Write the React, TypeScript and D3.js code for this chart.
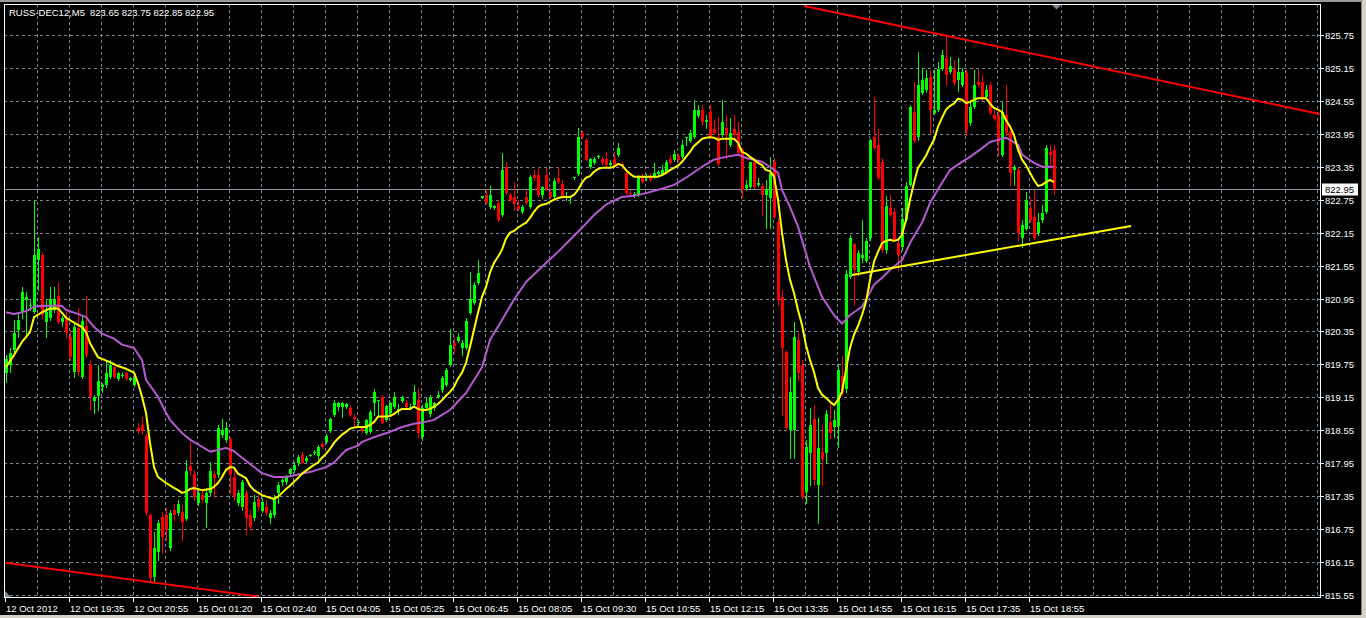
import React, { useRef, useEffect } from 'react';
import * as d3 from 'd3';

// RUSS-DEC12, M5 candles (bar 0 = left edge of the chart)
const opens = [
  819.60, 819.74, 820.01, 820.38, 820.70, 820.93, 820.82, 820.70, 821.65, 821.75,
  820.52, 820.60, 820.74, 820.99, 820.52, 820.61, 820.25, 819.61, 820.42, 819.52,
  820.45, 819.74, 819.09, 819.18, 819.34, 819.38, 819.52, 819.70, 819.49, 819.54,
  819.60, 819.47, 819.38, 818.60, 818.65, 818.45, 817.01, 815.88, 816.34, 816.97,
  817.01, 816.41, 817.10, 817.05, 817.06, 816.94, 817.90, 817.76, 817.23, 817.37,
  817.23, 817.41, 817.76, 817.74, 818.47, 818.38, 818.40, 817.70, 817.23, 817.15,
  817.41, 817.01, 816.95, 817.30, 817.08, 817.15, 816.95, 817.01, 817.41, 817.61,
  817.61, 817.76, 817.83, 817.96, 818.10, 817.99, 818.08, 818.14, 818.08, 818.30,
  818.34, 818.54, 818.83, 818.98, 818.98, 818.98, 818.96, 818.80, 818.69, 818.60,
  818.50, 818.52, 819.05, 819.08, 819.16, 818.74, 818.87, 818.98, 818.94, 819.09,
  819.05, 818.98, 819.01, 819.10, 818.43, 818.96, 818.85, 818.96, 819.16, 819.29,
  819.38, 819.74, 820.14, 820.18, 820.05, 820.05, 820.69, 820.87, 821.24, 822.79,
  822.84, 822.62, 822.60, 822.69, 822.47, 823.35, 822.84, 822.80, 822.64, 822.53,
  822.80, 822.62, 823.20, 823.20, 822.84, 823.20, 822.89, 822.80, 823.15, 823.04,
  822.80, 822.78, 823.15, 823.22, 823.97, 823.84, 823.35, 823.42, 823.53, 823.49,
  823.49, 823.38, 823.49, 823.57, 823.40, 823.24, 822.87, 822.84, 822.84, 823.17,
  823.15, 823.18, 823.17, 823.22, 823.22, 823.26, 823.49, 823.48, 823.55, 823.53,
  823.88, 823.82, 823.89, 824.28, 824.39, 824.17, 824.35, 824.04, 823.89, 823.93,
  824.06, 823.75, 824.04, 823.99, 823.66, 822.96, 822.98, 823.44, 823.02, 823.00,
  822.84, 822.78, 823.44, 822.35, 820.98, 819.98, 818.56, 818.56, 820.20, 819.74,
  817.43, 818.14, 818.76, 817.56, 818.16, 818.14, 818.70, 818.61, 818.63, 819.54,
  819.31, 821.34, 821.95, 821.43, 821.69, 821.64, 822.05, 823.89, 823.75, 823.44,
  821.84, 822.60, 822.53, 821.96, 821.89, 822.38, 823.02, 824.35, 823.89, 824.70,
  824.75, 824.99, 824.33, 824.39, 825.13, 825.33, 825.08, 825.13, 824.93, 824.84,
  825.06, 824.15, 824.44, 824.90, 824.90, 824.62, 824.84, 824.30, 824.30, 823.57,
  824.30, 823.99, 823.29, 823.29, 822.05, 822.22, 822.60, 822.44, 822.15, 822.38,
  822.53, 823.62, 823.65,
];
const highs = [
  819.92, 820.05, 820.56, 820.70, 821.16, 821.06, 820.93, 822.75, 822.07, 821.80,
  820.93, 821.16, 821.16, 821.25, 820.63, 820.70, 820.38, 820.51, 820.78, 820.65,
  820.99, 819.83, 819.20, 819.74, 819.41, 819.83, 819.83, 819.74, 819.61, 819.61,
  819.61, 819.52, 819.52, 818.69, 818.80, 818.49, 817.05, 816.70, 816.92, 817.06,
  817.14, 817.10, 817.21, 817.28, 817.19, 818.01, 818.34, 817.83, 817.46, 817.46,
  817.50, 817.97, 817.83, 818.65, 818.76, 818.70, 818.43, 817.83, 817.46, 817.65,
  817.46, 817.10, 817.37, 817.37, 817.32, 817.28, 817.10, 817.37, 817.61, 817.68,
  817.74, 817.87, 817.97, 818.10, 818.16, 818.08, 818.12, 818.19, 818.28, 818.34,
  818.49, 818.78, 819.10, 819.07, 819.07, 819.05, 819.01, 818.85, 818.74, 818.63,
  818.76, 818.92, 819.31, 819.10, 819.20, 819.01, 819.07, 819.25, 819.03, 819.18,
  819.10, 819.03, 819.38, 819.32, 819.01, 819.14, 819.20, 819.07, 819.27, 819.54,
  819.69, 820.40, 820.25, 820.33, 820.20, 820.60, 821.43, 821.25, 821.65, 822.82,
  822.95, 823.00, 822.66, 822.75, 823.60, 823.44, 822.87, 823.07, 822.75, 822.66,
  822.93, 823.20, 823.29, 823.35, 823.00, 823.33, 822.96, 823.15, 823.35, 823.11,
  822.89, 822.82, 823.17, 824.06, 824.00, 823.88, 823.51, 823.53, 823.57, 823.53,
  823.62, 823.48, 823.62, 823.79, 823.44, 823.29, 822.93, 822.89, 823.20, 823.22,
  823.22, 823.24, 823.42, 823.29, 823.38, 823.48, 823.57, 823.66, 823.60, 823.84,
  823.89, 824.02, 824.57, 824.48, 824.48, 824.30, 824.48, 824.20, 824.26, 824.57,
  824.30, 824.24, 824.30, 824.17, 823.69, 823.11, 823.44, 823.48, 823.15, 823.06,
  823.11, 823.53, 823.51, 822.42, 821.11, 820.01, 819.52, 820.52, 820.33, 819.83,
  818.38, 818.96, 819.01, 818.78, 818.65, 818.92, 819.07, 818.92, 819.74, 819.90,
  821.47, 822.11, 821.97, 821.84, 822.38, 822.05, 823.86, 824.62, 824.04, 823.51,
  822.82, 822.84, 822.60, 822.05, 822.60, 823.07, 824.48, 824.90, 825.44, 825.15,
  825.11, 825.11, 825.11, 825.26, 825.48, 825.71, 825.35, 825.30, 825.33, 825.15,
  825.11, 824.57, 825.11, 825.13, 825.02, 824.84, 824.90, 824.39, 824.39, 824.53,
  824.84, 824.11, 823.38, 823.33, 822.38, 822.89, 822.78, 822.93, 822.51, 822.66,
  823.75, 823.75, 823.75,
];
const lows = [
  819.43, 819.61, 819.97, 820.25, 820.60, 820.25, 820.74, 820.69, 821.11, 820.60,
  820.25, 820.56, 820.70, 820.51, 820.45, 820.25, 819.83, 819.52, 819.56, 819.50,
  819.88, 818.92, 818.87, 818.92, 819.25, 819.34, 819.50, 819.50, 819.47, 819.52,
  819.47, 819.45, 819.36, 818.50, 818.50, 817.01, 815.79, 815.79, 816.19, 816.32,
  816.55, 816.37, 816.92, 817.01, 816.55, 816.92, 817.74, 817.28, 817.19, 817.24,
  816.79, 817.37, 817.34, 817.70, 818.43, 818.34, 817.41, 817.28, 817.19, 817.10,
  816.66, 816.73, 816.92, 817.10, 817.06, 817.01, 816.86, 816.97, 817.23, 817.55,
  817.57, 817.72, 817.79, 817.92, 817.96, 817.97, 818.08, 818.12, 818.03, 818.23,
  818.32, 818.52, 818.81, 818.92, 818.80, 818.96, 818.81, 818.61, 818.65, 818.52,
  818.49, 818.50, 818.83, 818.83, 818.69, 818.72, 818.85, 818.96, 818.85, 819.07,
  818.96, 818.94, 818.99, 818.43, 818.38, 818.92, 818.81, 818.92, 819.14, 819.25,
  819.36, 819.72, 819.96, 820.16, 819.92, 820.03, 820.67, 820.85, 821.22, 822.78,
  822.67, 822.60, 822.58, 822.36, 822.46, 822.86, 822.73, 822.57, 822.57, 822.51,
  822.67, 822.60, 823.11, 822.82, 822.78, 822.93, 822.78, 822.78, 823.06, 822.78,
  822.75, 822.69, 823.13, 823.20, 823.88, 823.48, 823.33, 823.40, 823.51, 823.40,
  823.37, 823.35, 823.35, 823.55, 823.33, 822.86, 822.82, 822.80, 822.82, 823.06,
  823.11, 823.09, 823.15, 823.20, 823.20, 823.24, 823.40, 823.46, 823.46, 823.51,
  823.75, 823.80, 823.88, 824.26, 824.11, 824.06, 823.88, 823.95, 823.38, 823.91,
  823.51, 823.73, 823.91, 823.57, 822.80, 822.93, 822.96, 822.96, 823.00, 822.47,
  822.24, 822.24, 822.42, 820.84, 818.83, 818.56, 818.05, 818.05, 819.47, 817.32,
  817.23, 817.56, 817.56, 816.86, 817.56, 817.96, 818.41, 818.43, 818.25, 819.20,
  819.25, 821.33, 820.84, 821.38, 821.62, 821.62, 822.02, 823.67, 823.13, 821.80,
  821.78, 822.46, 822.00, 821.47, 821.84, 822.36, 823.00, 823.80, 823.84, 824.68,
  824.71, 823.97, 824.31, 824.37, 825.11, 824.84, 825.06, 824.84, 824.73, 824.82,
  823.93, 824.11, 824.42, 824.82, 824.57, 824.60, 824.31, 824.20, 823.57, 823.55,
  823.93, 823.02, 823.02, 822.02, 821.89, 822.20, 822.35, 822.03, 822.11, 822.35,
  822.51, 823.33, 822.85,
];
const closes = [
  819.85, 819.96, 820.33, 820.56, 821.06, 820.98, 820.84, 821.75, 821.86, 820.65,
  820.70, 820.95, 820.95, 820.52, 820.60, 820.33, 819.88, 820.43, 819.61, 820.54,
  819.92, 819.16, 819.16, 819.45, 819.38, 819.60, 819.74, 819.52, 819.60, 819.56,
  819.49, 819.50, 819.50, 818.54, 818.54, 817.05, 815.86, 816.41, 816.86, 816.61,
  816.73, 817.05, 817.01, 817.21, 816.88, 817.81, 817.81, 817.34, 817.41, 817.28,
  817.41, 817.81, 817.68, 818.60, 818.56, 818.60, 817.74, 817.34, 817.41, 817.61,
  816.95, 816.79, 817.24, 817.15, 817.24, 817.05, 817.05, 817.30, 817.55, 817.65,
  817.70, 817.85, 817.92, 818.06, 817.96, 818.05, 818.10, 818.16, 818.25, 818.25,
  818.45, 818.76, 819.05, 819.05, 819.05, 819.03, 818.83, 818.76, 818.70, 818.54,
  818.74, 818.89, 819.25, 819.10, 818.69, 819.00, 819.05, 819.16, 818.94, 819.16,
  818.98, 818.98, 819.25, 818.50, 818.96, 819.05, 819.16, 819.05, 819.20, 819.50,
  819.65, 820.10, 820.09, 820.25, 820.14, 820.54, 820.95, 821.20, 821.42, 822.81,
  822.69, 822.84, 822.64, 822.38, 823.29, 822.87, 822.75, 822.67, 822.58, 822.62,
  822.69, 823.17, 823.15, 822.84, 822.98, 822.95, 822.80, 823.09, 823.07, 822.80,
  822.82, 822.80, 823.16, 823.89, 823.89, 823.48, 823.49, 823.49, 823.54, 823.42,
  823.38, 823.42, 823.37, 823.69, 823.35, 822.87, 822.86, 822.86, 823.17, 823.07,
  823.18, 823.11, 823.24, 823.26, 823.29, 823.44, 823.42, 823.58, 823.48, 823.75,
  823.89, 823.97, 824.39, 824.39, 824.17, 824.20, 823.89, 823.97, 823.40, 824.17,
  823.93, 823.97, 823.93, 823.60, 822.93, 823.02, 823.44, 822.98, 823.06, 822.84,
  822.93, 823.24, 822.44, 820.93, 820.05, 818.60, 819.25, 820.25, 819.60, 817.34,
  818.25, 818.65, 817.65, 818.23, 818.03, 818.85, 818.50, 818.74, 819.65, 819.23,
  821.40, 822.05, 821.47, 821.78, 821.75, 822.00, 823.84, 823.69, 823.15, 821.84,
  822.64, 822.47, 822.02, 821.75, 822.40, 823.00, 824.44, 823.82, 824.84, 824.93,
  824.97, 824.39, 824.39, 825.13, 825.39, 825.02, 825.19, 824.88, 825.08, 825.08,
  824.02, 824.44, 824.84, 824.84, 824.60, 824.75, 824.33, 824.22, 823.80, 824.35,
  823.97, 823.24, 823.35, 822.15, 822.29, 822.75, 822.38, 822.05, 822.35, 822.51,
  823.69, 823.57, 822.95,
];

// moving averages: [bar, price]
const maFast: [number, number][] = [
  [0, 819.70], [2, 819.92], [4, 820.16], [6, 820.34], [7, 820.61], [9, 820.70], [11, 820.77], [13, 820.77],
  [14, 820.69], [15, 820.60], [17, 820.51], [19, 820.43], [20, 820.34], [21, 820.14], [22, 820.01], [23, 819.88],
  [24, 819.85], [26, 819.79], [28, 819.72], [30, 819.67], [32, 819.60], [33, 819.41], [34, 819.16], [35, 818.87],
  [36, 818.32], [37, 817.88], [38, 817.70], [40, 817.59], [42, 817.50], [43, 817.46], [44, 817.41], [45, 817.43],
  [46, 817.48], [47, 817.50], [49, 817.46], [51, 817.48], [52, 817.52], [53, 817.59], [54, 817.70], [55, 817.83],
  [56, 817.88], [57, 817.87], [58, 817.76], [60, 817.68], [61, 817.54], [62, 817.46], [64, 817.37], [66, 817.32],
  [67, 817.30], [68, 817.34], [69, 817.41], [70, 817.48], [71, 817.54], [72, 817.61], [73, 817.68], [74, 817.76],
  [76, 817.87], [77, 817.92], [78, 817.96], [79, 818.05], [80, 818.12], [81, 818.21], [82, 818.32], [83, 818.40],
  [84, 818.47], [85, 818.52], [86, 818.58], [87, 818.60], [88, 818.61], [90, 818.61], [91, 818.65], [92, 818.70],
  [93, 818.80], [95, 818.80], [96, 818.81], [97, 818.85], [98, 818.90], [99, 818.94], [101, 818.94], [102, 818.98],
  [103, 818.94], [104, 818.92], [105, 818.92], [106, 818.94], [107, 818.98], [108, 819.03], [109, 819.10], [110, 819.18],
  [111, 819.25], [112, 819.34], [113, 819.49], [114, 819.60], [115, 819.78], [116, 820.07], [117, 820.38], [118, 820.69],
  [119, 820.98], [120, 821.16], [121, 821.42], [122, 821.60], [123, 821.71], [124, 821.84], [125, 822.04], [126, 822.15],
  [127, 822.18], [128, 822.24], [129, 822.29], [130, 822.33], [131, 822.42], [132, 822.53], [133, 822.62], [134, 822.66],
  [135, 822.67], [136, 822.71], [137, 822.75], [138, 822.78], [139, 822.80], [141, 822.80], [142, 822.84], [143, 822.93],
  [144, 823.06], [145, 823.15], [146, 823.18], [147, 823.26], [148, 823.31], [149, 823.33], [151, 823.33], [152, 823.35],
  [153, 823.40], [154, 823.38], [155, 823.29], [156, 823.22], [157, 823.17], [163, 823.17], [164, 823.20], [165, 823.24],
  [166, 823.29], [167, 823.33], [168, 823.37], [169, 823.44], [170, 823.53], [171, 823.62], [172, 823.73], [173, 823.79],
  [174, 823.86], [175, 823.88], [176, 823.89], [177, 823.88], [178, 823.84], [179, 823.86], [182, 823.86], [183, 823.79],
  [184, 823.62], [185, 823.59], [186, 823.53], [187, 823.48], [188, 823.42], [189, 823.38], [190, 823.29], [191, 823.27],
  [192, 823.17], [193, 822.75], [194, 822.15], [195, 821.65], [196, 821.29], [197, 821.05], [198, 820.74], [199, 820.47],
  [200, 820.10], [201, 819.83], [202, 819.61], [203, 819.32], [204, 819.20], [205, 819.14], [206, 819.07], [207, 819.01],
  [208, 819.10], [209, 819.25], [210, 819.65], [211, 820.05], [212, 820.29], [213, 820.45], [214, 820.65], [215, 820.89],
  [216, 821.29], [217, 821.62], [218, 821.80], [219, 821.96], [220, 822.00], [221, 822.02], [222, 822.00], [223, 822.02],
  [224, 822.11], [225, 822.38], [226, 822.75], [227, 823.06], [228, 823.33], [229, 823.44], [230, 823.55], [231, 823.71],
  [232, 823.84], [233, 824.08], [234, 824.24], [235, 824.39], [236, 824.46], [237, 824.50], [238, 824.59], [239, 824.57],
  [240, 824.51], [241, 824.53], [242, 824.57], [243, 824.60], [245, 824.60], [246, 824.50], [247, 824.42], [248, 824.39],
  [249, 824.35], [250, 824.20], [251, 824.08], [252, 823.93], [253, 823.66], [254, 823.48], [255, 823.38], [256, 823.24],
  [257, 823.11], [258, 823.00], [259, 823.02], [260, 823.07], [261, 823.11], [262, 823.07],
];
const maSlow: [number, number][] = [
  [0, 820.70], [2, 820.67], [4, 820.70], [5, 820.72], [7, 820.80], [9, 820.82], [11, 820.82], [14, 820.82],
  [15, 820.74], [18, 820.67], [20, 820.61], [22, 820.43], [24, 820.31], [27, 820.22], [29, 820.11], [32, 820.05],
  [34, 819.83], [35, 819.47], [38, 819.16], [40, 818.87], [41, 818.74], [44, 818.50], [46, 818.38], [49, 818.25],
  [51, 818.16], [54, 818.21], [55, 818.23], [57, 818.17], [59, 818.05], [62, 817.88], [64, 817.77], [67, 817.70],
  [70, 817.70], [74, 817.76], [77, 817.81], [80, 817.88], [82, 817.96], [85, 818.19], [88, 818.27], [89, 818.34],
  [93, 818.45], [96, 818.52], [99, 818.61], [102, 818.67], [104, 818.69], [107, 818.74], [109, 818.83], [111, 818.92],
  [115, 819.23], [119, 819.70], [121, 820.20], [124, 820.56], [127, 820.93], [130, 821.25], [134, 821.53], [138, 821.80],
  [141, 822.02], [144, 822.24], [147, 822.47], [150, 822.66], [154, 822.80], [157, 822.82], [160, 822.87], [164, 822.95],
  [167, 823.02], [170, 823.15], [174, 823.35], [177, 823.48], [180, 823.53], [183, 823.57], [185, 823.51], [189, 823.44],
  [191, 823.35], [193, 823.24], [194, 822.93], [196, 822.62], [198, 822.26], [201, 821.53], [204, 820.98], [207, 820.65],
  [209, 820.49], [211, 820.65], [214, 820.80], [215, 820.93], [217, 821.20], [219, 821.33], [221, 821.47], [224, 821.65],
  [226, 821.96], [229, 822.33], [231, 822.69], [234, 823.06], [236, 823.29], [239, 823.44], [241, 823.53], [244, 823.69],
  [246, 823.80], [248, 823.84], [250, 823.88], [251, 823.84], [253, 823.75], [254, 823.57], [257, 823.42], [259, 823.35],
  [262, 823.35],
];

// hand-drawn trend lines: [bar, price]
const redTrendTop: [number, number][] = [[199.5, 826.28], [328.5, 824.31]];
const redTrendBottom: [number, number][] = [[-0.5, 816.14], [63.25, 815.52]];
const yellowTrend: [number, number][] = [[211.5, 821.38], [281.25, 822.27]];

const priceTicks = [
  815.55, 816.15, 816.75, 817.35, 817.95, 818.55, 819.15, 819.75, 820.35,
  820.95, 821.55, 822.15, 822.75, 823.35, 823.95, 824.55, 825.15, 825.75,
];
const timeTickBars = [0, 16, 32, 48, 64, 80, 96, 112, 128, 144, 160, 176, 192, 208, 224, 240, 256];
const timeTickLabels = [
  '12 Oct 2012', '12 Oct 19:35', '12 Oct 20:55', '15 Oct 01:20', '15 Oct 02:40', '15 Oct 04:05',
  '15 Oct 05:25', '15 Oct 06:45', '15 Oct 08:05', '15 Oct 09:30', '15 Oct 10:55', '15 Oct 12:15',
  '15 Oct 13:35', '15 Oct 14:55', '15 Oct 16:15', '15 Oct 17:35', '15 Oct 18:55',
];
const lastPrice = 822.95;
const symbolLabel = 'RUSS-DEC12,M5';
const quoteLabel = '823.65 823.75 822.85 822.95';

export default function App() {
  const svgRef = useRef<SVGSVGElement>(null);

  useEffect(() => {
    const W = 1366, H = 618;
    const left = 4, top = 4, right = 1320, bottom = 598;
    const font = '"Liberation Sans", Arial, sans-serif';
    const gridColor = '#778899';
    const svg = d3.select(svgRef.current as SVGSVGElement);
    svg.selectAll('*').remove();

    const x = d3.scaleLinear().domain([0, 262]).range([6, 1054]);
    const y = d3.scaleLinear().domain([815.55, 825.75]).range([595, 35]);

    svg.append('rect').attr('width', W).attr('height', H).attr('fill', '#000');

    // window frame
    svg.append('rect').attr('x', 0).attr('y', 0).attr('width', W).attr('height', 2).attr('fill', '#9a9a9a');
    svg.append('rect').attr('x', 1361).attr('y', 0).attr('width', 5).attr('height', H).attr('fill', '#d4d0c8');
    svg.append('rect').attr('x', 1361).attr('y', 0).attr('width', 1).attr('height', H).attr('fill', '#808080');
    svg.append('rect').attr('x', 0).attr('y', 615).attr('width', W).attr('height', 3).attr('fill', '#d4d0c8');

    svg.append('clipPath').attr('id', 'plot')
      .append('rect').attr('x', left + 1).attr('y', top + 1).attr('width', right - left - 1).attr('height', bottom - top - 1);

    // grid
    const grid = svg.append('g').attr('shape-rendering', 'crispEdges').attr('stroke', gridColor).attr('stroke-dasharray', '3,3');
    priceTicks.forEach(p => {
      const yy = Math.round(y(p)) + 0.5;
      grid.append('line').attr('x1', left).attr('x2', right).attr('y1', yy).attr('y2', yy);
    });
    for (let i = 8; x(i) - 1 < right; i += 8) {
      const xx = x(i) - 1 + 0.5;
      grid.append('line').attr('x1', xx).attr('x2', xx).attr('y1', top).attr('y2', bottom);
    }

    // last price line
    const yLast = Math.round(y(lastPrice)) + 0.5;
    svg.append('line').attr('x1', left).attr('x2', right).attr('y1', yLast).attr('y2', yLast)
      .attr('stroke', '#8d97a3').attr('shape-rendering', 'crispEdges');

    // candles
    const plot = svg.append('g').attr('clip-path', 'url(#plot)');
    const cg = plot.append('g').attr('shape-rendering', 'crispEdges');
    opens.forEach((o, i) => {
      const c = closes[i];
      const col = c >= o ? '#00ff00' : '#ff0000';
      const cx = Math.round(x(i));
      cg.append('line')
        .attr('x1', cx + 0.5).attr('x2', cx + 0.5)
        .attr('y1', Math.round(y(highs[i]))).attr('y2', Math.round(y(lows[i])) + 1)
        .attr('stroke', col);
      const yTop = Math.round(y(Math.max(o, c)));
      const yBot = Math.round(y(Math.min(o, c)));
      cg.append('rect')
        .attr('x', cx - 1).attr('width', 3)
        .attr('y', yTop).attr('height', Math.max(1, yBot - yTop))
        .attr('fill', col);
    });

    // moving averages
    const line = d3.line<[number, number]>().x(d => x(d[0])).y(d => y(d[1]));
    plot.append('path').datum(maSlow).attr('d', line).attr('fill', 'none')
      .attr('stroke', '#b55ad0').attr('stroke-width', 2).attr('stroke-linejoin', 'round');
    plot.append('path').datum(maFast).attr('d', line).attr('fill', 'none')
      .attr('stroke', '#ffff00').attr('stroke-width', 2).attr('stroke-linejoin', 'round');

    // trend lines
    [redTrendTop, redTrendBottom].forEach(t => {
      plot.append('path').datum(t).attr('d', line).attr('stroke', '#ff0000').attr('stroke-width', 2).attr('fill', 'none');
    });
    plot.append('path').datum(yellowTrend).attr('d', line).attr('stroke', '#ffff00').attr('stroke-width', 2).attr('fill', 'none');

    // chart border
    svg.append('rect').attr('x', left + 0.5).attr('y', top + 0.5)
      .attr('width', right - left).attr('height', bottom - top - 1)
      .attr('fill', 'none').attr('stroke', '#fff').attr('shape-rendering', 'crispEdges');

    // shift marker and corner marker
    svg.append('path').attr('d', 'M1052,5 L1061,5 L1056.5,9.5 Z').attr('fill', gridColor);
    svg.append('path').attr('d', 'M5,591 L5,597 L11,597 Z').attr('fill', gridColor);

    // price axis
    const ax = svg.append('g').attr('font-family', font).attr('font-size', '9.5px').attr('fill', '#fff');
    priceTicks.forEach(p => {
      const yy = Math.round(y(p)) + 0.5;
      ax.append('line').attr('x1', right).attr('x2', right + 4).attr('y1', yy).attr('y2', yy)
        .attr('stroke', '#fff').attr('shape-rendering', 'crispEdges');
      ax.append('text').attr('x', 1325).attr('y', yy + 3.5).text(p.toFixed(2));
    });

    // last price label
    svg.append('rect').attr('x', 1322).attr('y', yLast - 6).attr('width', 36).attr('height', 12).attr('fill', '#fff');
    svg.append('text').attr('x', 1325).attr('y', yLast + 3.5).attr('font-family', font).attr('font-size', '9.5px')
      .attr('fill', '#000').text(lastPrice.toFixed(2));

    // time axis
    timeTickBars.forEach((b, k) => {
      const xx = Math.round(x(b)) - 1 + 0.5;
      ax.append('line').attr('x1', xx).attr('x2', xx).attr('y1', bottom).attr('y2', bottom + 4)
        .attr('stroke', '#fff').attr('shape-rendering', 'crispEdges');
      ax.append('text').attr('x', xx + 0.5).attr('y', 612).text(timeTickLabels[k]);
    });

    // title
    const tt = svg.append('g').attr('font-family', font).attr('font-size', '9.5px').attr('fill', '#fff');
    tt.append('text').attr('x', 9).attr('y', 16).text(symbolLabel);
    tt.append('text').attr('x', 90).attr('y', 16).text(quoteLabel);
  }, []);

  return (
    <svg
      ref={svgRef}
      width={1366}
      height={618}
      style={{ position: 'absolute', left: 0, top: 0, display: 'block' }}
    />
  );
}
